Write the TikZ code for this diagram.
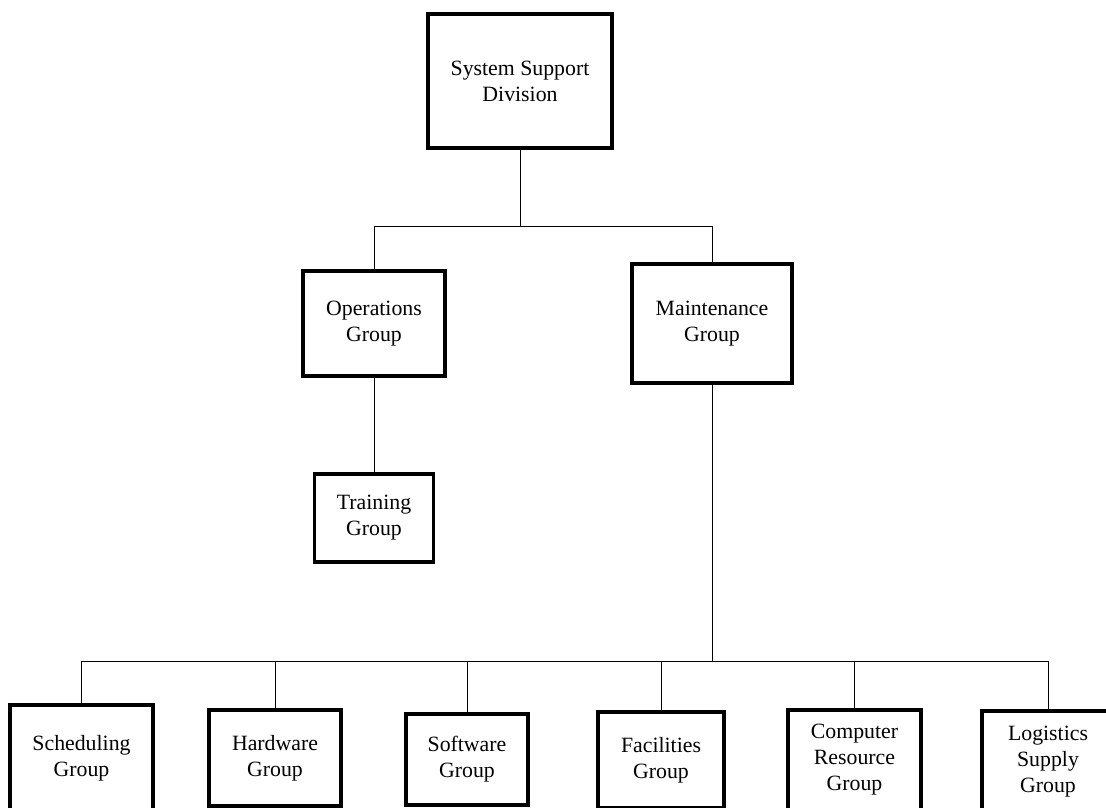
\documentclass[tikz,border=0pt]{standalone}
\usepackage{fontspec}
\setmainfont{Liberation Serif}
\begin{document}
\begin{tikzpicture}[x=1pt,y=-1pt,
  unit/.style={draw, line width=3.2pt, rectangle, inner sep=0pt, align=center,
    font=\fontsize{21.8}{26}\selectfont},
  link/.style={line width=0.9pt, line cap=rect}]
\useasboundingbox (0,0) rectangle (1106,808);
\clip (0,0) rectangle (1106,808);

% top of the hierarchy
\node[unit, minimum width=184pt, minimum height=134pt] (ssd) at (520,81) {System Support\\Division};

% second level
\node[unit, minimum width=142pt, minimum height=105pt] (ops) at (374,323.5) {Operations\\Group};
\node[unit, minimum width=160pt, minimum height=119pt] (mnt) at (712,323.5) {Maintenance\\Group};
\node[unit, minimum width=119pt, minimum height=88pt] (trn) at (374,518) {Training\\Group};

% groups under maintenance
\node[unit, minimum width=143pt, minimum height=107pt] (sch) at (81.5,758.5) {Scheduling\\Group};
\node[unit, minimum width=132pt, minimum height=96pt] (hw) at (275,758) {Hardware\\Group};
\node[unit, minimum width=122pt, minimum height=91pt] (sw) at (467,759.5) {Software\\Group};
\node[unit, minimum width=126pt, minimum height=96pt] (fac) at (661,760) {Facilities\\Group};
\node[unit, minimum width=133pt, minimum height=100pt] (cr) at (854.5,760) {Computer\\Resource\\Group};
\node[unit, minimum width=132pt, minimum height=102pt] (lsg) at (1048,762) {Logistics\\Supply\\Group};

% bus lines
\coordinate (bus1) at (520,226);
\coordinate (bus2) at (712,661);

\draw[link] (ssd.south) -- (ssd.south |- bus1);
\draw[link] (ops.north) -- (ops.north |- bus1) -| (mnt.north);
\draw[link] (ops.south) -- (trn.north);

\draw[link] (mnt.south) -- (mnt.south |- bus2);
\draw[link] (sch.north) -- (sch.north |- bus2) -| (lsg.north);
\foreach \n in {hw,sw,fac,cr} \draw[link] (\n.north) -- (\n.north |- bus2);
\end{tikzpicture}
\end{document}
